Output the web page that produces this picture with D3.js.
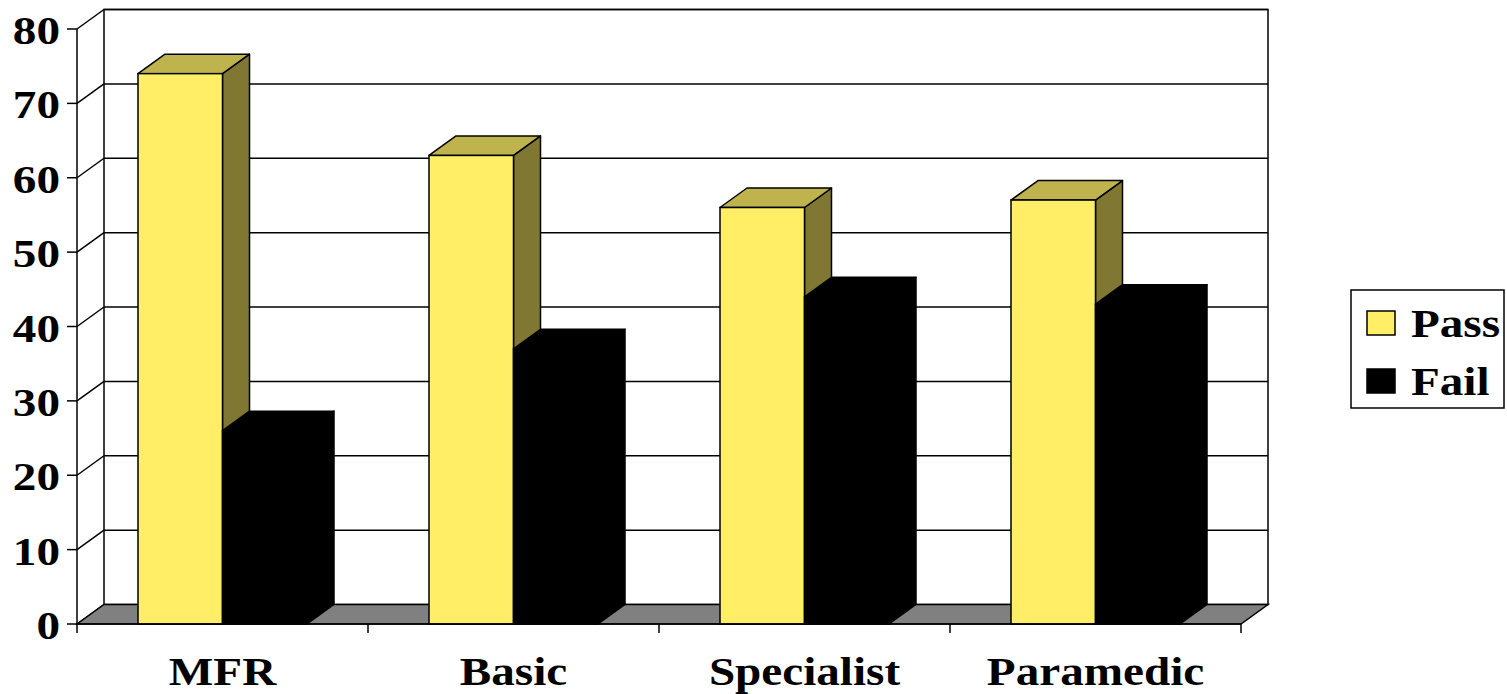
<!DOCTYPE html>
<meta charset="utf-8">
<style>
    body { margin: 0; background: #ffffff; }
    text { font-family: "Liberation Serif", "Times New Roman", serif; font-weight: bold; fill: #000; }
</style>
<svg width="1507" height="694"></svg>
<script src="https://d3js.org/d3.v7.min.js"></script>
<script>
    var categories = ["MFR", "Basic", "Specialist", "Paramedic"];
    var series = ["Pass", "Fail"];
    var passValues = [74, 63, 56, 57];
    var failValues = [26, 37, 44, 43];
    var yTicks = [0, 10, 20, 30, 40, 50, 60, 70, 80];

    var svg = d3.select("svg");
    var plotLeft = 77, plotRight = 1241, plotBottom = 624, plotTop = 29;
    var dx = 27, dy = -19.5;   // depth of the 3d box
    var stretch = 1.15;        // text looks stretched horizontally

    var y = d3.scaleLinear().domain([0, 80]).range([plotBottom, plotTop]);
    var x = d3.scaleBand().domain(categories).range([plotLeft, plotRight]).paddingInner(0).paddingOuter(0);
    var xs = d3.scaleBand().domain(series).range([61, x.bandwidth() - 61]);

    var colors = {
        Pass: {front: "#FFEE66", top: "#BFB34D", side: "#807733"},
        Fail: {front: "#000000", top: "#000000", side: "#000000"}
    };

    var data = [];
    categories.forEach(function(c, i) {
        data.push({cat: c, s: "Pass", v: passValues[i]});
        data.push({cat: c, s: "Fail", v: failValues[i]});
    });

    function pts(a) { return a.map(function(p) { return p.join(","); }).join(" "); }

    // back wall
    svg.append("rect")
        .attr("x", plotLeft + dx).attr("y", y(80) + dy)
        .attr("width", plotRight - plotLeft).attr("height", y(0) - y(80))
        .attr("fill", "#fff").attr("stroke", "#000").attr("stroke-width", 1.5);

    // gridlines on back wall + left wall diagonals
    yTicks.forEach(function(t) {
        if (t > 0) {
            svg.append("line")
                .attr("x1", plotLeft + dx).attr("x2", plotRight + dx)
                .attr("y1", y(t) + dy).attr("y2", y(t) + dy)
                .attr("stroke", "#000").attr("stroke-width", 1.5);
        }
        svg.append("line")
            .attr("x1", plotLeft).attr("x2", plotLeft + dx)
            .attr("y1", y(t)).attr("y2", y(t) + dy)
            .attr("stroke", "#000").attr("stroke-width", 1.5);
    });

    // floor
    svg.append("polygon")
        .attr("points", pts([[plotLeft, y(0)], [plotLeft + dx, y(0) + dy], [plotRight + dx, y(0) + dy], [plotRight, y(0)]]))
        .attr("fill", "#808080").attr("stroke", "#000").attr("stroke-width", 1.5);

    // front y axis line
    svg.append("line")
        .attr("x1", plotLeft).attr("x2", plotLeft).attr("y1", y(80)).attr("y2", y(0))
        .attr("stroke", "#000").attr("stroke-width", 1.5);

    // bars
    var bars = svg.selectAll(".bar").data(data).enter().append("g").attr("class", "bar");
    bars.each(function(d) {
        var g = d3.select(this);
        var x0 = x(d.cat) + xs(d.s), w = xs.bandwidth();
        var yt = y(d.v), yb = y(0);
        var c = colors[d.s];
        g.append("polygon")
            .attr("points", pts([[x0 + w, yt], [x0 + w + dx, yt + dy], [x0 + w + dx, yb + dy], [x0 + w, yb]]))
            .attr("fill", c.side).attr("stroke", "#000").attr("stroke-width", 1.5).attr("stroke-linejoin", "round");
        g.append("polygon")
            .attr("points", pts([[x0, yt], [x0 + dx, yt + dy], [x0 + w + dx, yt + dy], [x0 + w, yt]]))
            .attr("fill", c.top).attr("stroke", "#000").attr("stroke-width", 1.5).attr("stroke-linejoin", "round");
        g.append("rect")
            .attr("x", x0).attr("y", yt).attr("width", w).attr("height", yb - yt)
            .attr("fill", c.front).attr("stroke", "#000").attr("stroke-width", 1.5);
    });

    // front x axis line + ticks
    svg.append("line")
        .attr("x1", plotLeft).attr("x2", plotRight).attr("y1", y(0)).attr("y2", y(0))
        .attr("stroke", "#000").attr("stroke-width", 1.5);
    var edges = categories.map(function(c) { return x(c); }).concat([plotRight]);
    edges.forEach(function(e) {
        svg.append("line")
            .attr("x1", e).attr("x2", e).attr("y1", y(0)).attr("y2", y(0) + 9)
            .attr("stroke", "#000").attr("stroke-width", 1.5);
    });

    // y ticks and labels
    yTicks.forEach(function(t) {
        svg.append("line")
            .attr("x1", plotLeft - 10).attr("x2", plotLeft).attr("y1", y(t)).attr("y2", y(t))
            .attr("stroke", "#000").attr("stroke-width", 1.5);
        svg.append("text")
            .attr("transform", "translate(" + (plotLeft - 17) + "," + (y(t) + 15) + ") scale(" + stretch + ",1)")
            .attr("text-anchor", "end")
            .style("font-size", "41px")
            .text(t);
    });

    // x labels
    categories.forEach(function(c) {
        svg.append("text")
            .attr("transform", "translate(" + (x(c) + x.bandwidth() / 2) + ",685) scale(" + stretch + ",1)")
            .attr("text-anchor", "middle")
            .style("font-size", "41px")
            .text(c);
    });

    // legend
    var legend = svg.append("g").attr("transform", "translate(1351,290)");
    legend.append("rect")
        .attr("width", 153).attr("height", 118)
        .attr("fill", "#fff").attr("stroke", "#000").attr("stroke-width", 1.5);
    series.forEach(function(s, i) {
        legend.append("rect")
            .attr("x", 16).attr("y", 21 + i * 58).attr("width", 28).attr("height", 24)
            .attr("fill", colors[s].front).attr("stroke", "#000").attr("stroke-width", 1.5);
        legend.append("text")
            .attr("transform", "translate(60," + (47 + i * 58) + ") scale(" + stretch + ",1)")
            .style("font-size", "41px")
            .text(s);
    });
</script>
